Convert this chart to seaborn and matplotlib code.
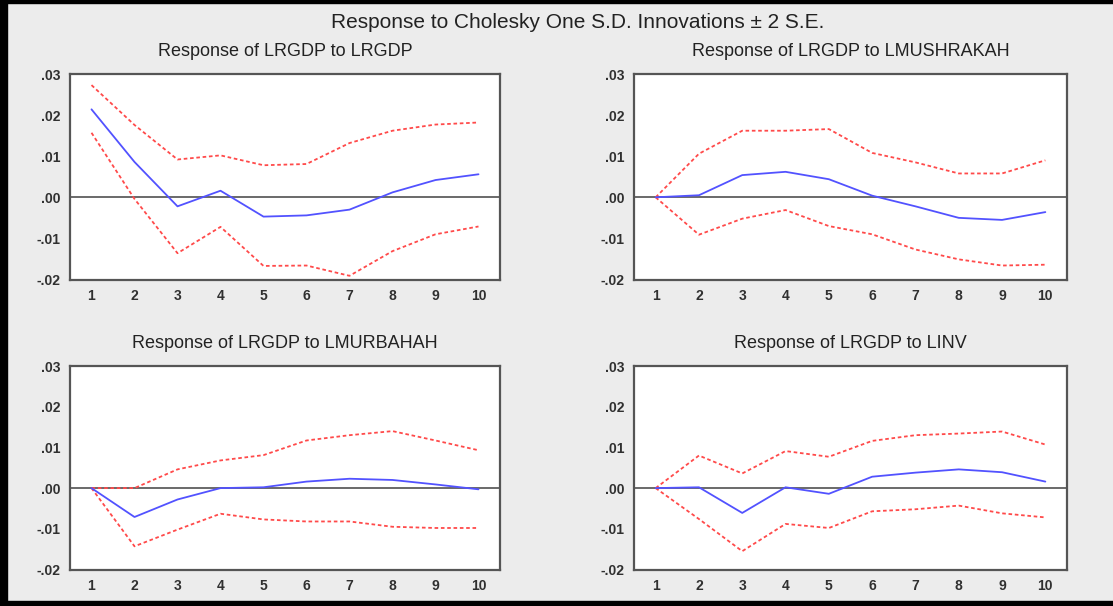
#!/usr/bin/env python3
"""
Impulse response plot: response of LRGDP to Cholesky one S.D. innovations +/- 2 S.E.
"""

import numpy as np
import pandas as pd
import seaborn as sns
import matplotlib.pyplot as plt
from matplotlib.patches import Rectangle
from matplotlib.ticker import FixedLocator, FuncFormatter

periods = [1, 2, 3, 4, 5, 6, 7, 8, 9, 10]

shocks = ["LRGDP", "LMUSHRAKAH", "LMURBAHAH", "LINV"]

# point responses
resp_lrgdp = [0.0214, 0.0086, -0.0022, 0.0016, -0.0047, -0.0044, -0.0030, 0.0012, 0.0042, 0.0056]
resp_lmushrakah = [0.0, 0.0005, 0.0054, 0.0062, 0.0044, 0.0004, -0.0022, -0.0050, -0.0055, -0.0036]
resp_lmurbahah = [0.0, -0.0071, -0.0028, 0.0, 0.0002, 0.0016, 0.0023, 0.0020, 0.0009, -0.0003]
resp_linv = [0.0, 0.0002, -0.0061, 0.0002, -0.0014, 0.0028, 0.0038, 0.0046, 0.0039, 0.0016]

# +2 S.E. bands
upper_lrgdp = [0.0273, 0.0176, 0.0092, 0.0102, 0.0078, 0.0081, 0.0132, 0.0162, 0.0177, 0.0182]
upper_lmushrakah = [0.0, 0.0106, 0.0162, 0.0162, 0.0166, 0.0108, 0.0085, 0.0058, 0.0058, 0.0090]
upper_lmurbahah = [0.0, 0.0, 0.0046, 0.0068, 0.0081, 0.0117, 0.0130, 0.0140, 0.0117, 0.0093]
upper_linv = [0.0, 0.0080, 0.0036, 0.0091, 0.0077, 0.0116, 0.0130, 0.0134, 0.0139, 0.0107]

# -2 S.E. bands
lower_lrgdp = [0.0157, -0.0004, -0.0136, -0.0072, -0.0167, -0.0166, -0.0191, -0.0131, -0.0090, -0.0071]
lower_lmushrakah = [0.0, -0.0091, -0.0052, -0.0031, -0.0070, -0.0090, -0.0127, -0.0151, -0.0166, -0.0164]
lower_lmurbahah = [0.0, -0.0143, -0.0102, -0.0063, -0.0077, -0.0082, -0.0082, -0.0095, -0.0098, -0.0098]
lower_linv = [0.0, -0.0076, -0.0155, -0.0088, -0.0098, -0.0057, -0.0052, -0.0043, -0.0062, -0.0072]

y_ticks = [-0.02, -0.01, 0.0, 0.01, 0.02, 0.03]


def build_frame():
    rows = []
    series = {
        "LRGDP": (resp_lrgdp, upper_lrgdp, lower_lrgdp),
        "LMUSHRAKAH": (resp_lmushrakah, upper_lmushrakah, lower_lmushrakah),
        "LMURBAHAH": (resp_lmurbahah, upper_lmurbahah, lower_lmurbahah),
        "LINV": (resp_linv, upper_linv, lower_linv),
    }
    for shock, (resp, up, lo) in series.items():
        for i, p in enumerate(periods):
            rows.append({"shock": shock, "period": p, "line": "resp", "value": resp[i]})
            rows.append({"shock": shock, "period": p, "line": "upper", "value": up[i]})
            rows.append({"shock": shock, "period": p, "line": "lower", "value": lo[i]})
    return pd.DataFrame(rows)


def fmt_y(v, pos):
    s = f"{v:.2f}"
    return s.replace("0.", ".")


def main():
    df = build_frame()
    sns.set_style("white")
    plt.rcParams['font.family'] = ['Liberation Sans', 'DejaVu Sans']

    fig = plt.figure(figsize=(11.13, 6.06), dpi=100, facecolor="#ececec")

    W, H = 1113, 606
    boxes = [
        (70, 74, 500, 279.5),
        (634, 74, 1067, 279.5),
        (70, 366, 500, 569.5),
        (634, 366, 1067, 569.5),
    ]

    for shock, (x0, y0, x1, y1) in zip(shocks, boxes):
        ax = fig.add_axes([x0 / W, 1 - y1 / H, (x1 - x0) / W, (y1 - y0) / H])
        ax.set_facecolor("white")
        sub = df[df["shock"] == shock]
        ax.axhline(0, color="#505050", lw=1.2, zorder=1)
        sns.lineplot(data=sub[sub["line"] == "upper"], x="period", y="value", ax=ax,
                     color="#ff4a4a", lw=1.3, linestyle=(0, (2, 1.5)))
        sns.lineplot(data=sub[sub["line"] == "lower"], x="period", y="value", ax=ax,
                     color="#ff4a4a", lw=1.3, linestyle=(0, (2, 1.5)))
        sns.lineplot(data=sub[sub["line"] == "resp"], x="period", y="value", ax=ax,
                     color="#5252ff", lw=1.3)

        ax.set_xlim(0.5, 10.5)
        ax.set_ylim(-0.02, 0.03)
        ax.xaxis.set_major_locator(FixedLocator(periods))
        ax.xaxis.set_minor_locator(FixedLocator(np.arange(0.5, 11, 1.0)))
        ax.yaxis.set_major_locator(FixedLocator(y_ticks))
        ax.yaxis.set_major_formatter(FuncFormatter(fmt_y))
        ax.tick_params(axis="x", which="major", length=0, pad=7, labelsize=10, labelcolor="#303030")
        ax.tick_params(axis="x", which="minor", length=5, width=1.4, color="#404040", direction="out")
        ax.tick_params(axis="y", which="major", length=5, width=1.4, color="#404040",
                       direction="out", pad=2, labelsize=10, labelcolor="#303030")
        for lab in ax.get_xticklabels() + ax.get_yticklabels():
            lab.set_fontweight("bold")
        for sp in ax.spines.values():
            sp.set_color("#555555")
            sp.set_linewidth(1.6)
        ax.set_xlabel("")
        ax.set_ylabel("")
        ax.grid(False)

        cx = (x0 + x1) / 2 / W
        ty = 1 - (y0 - 23) / H
        fig.text(cx, ty, f"Response of LRGDP to {shock}", ha="center", va="center",
                 fontsize=13, color="#222222")

    fig.text(578 / W, 1 - 22 / H, "Response to Cholesky One S.D. Innovations \u00b1 2 S.E.",
             ha="center", va="center", fontsize=15, color="#222222")

    # black frame edges of the screenshot
    fig.patches.append(Rectangle((0, 0), 7 / W, 1, transform=fig.transFigure, color="black", zorder=10))
    fig.patches.append(Rectangle((0, 1 - 3 / H), 1, 3 / H, transform=fig.transFigure, color="black", zorder=10))
    fig.patches.append(Rectangle((0, 0), 1, 5 / H, transform=fig.transFigure, color="black", zorder=10))

    fig.savefig("out.png", dpi=100, facecolor=fig.get_facecolor())


if __name__ == "__main__":
    main()
